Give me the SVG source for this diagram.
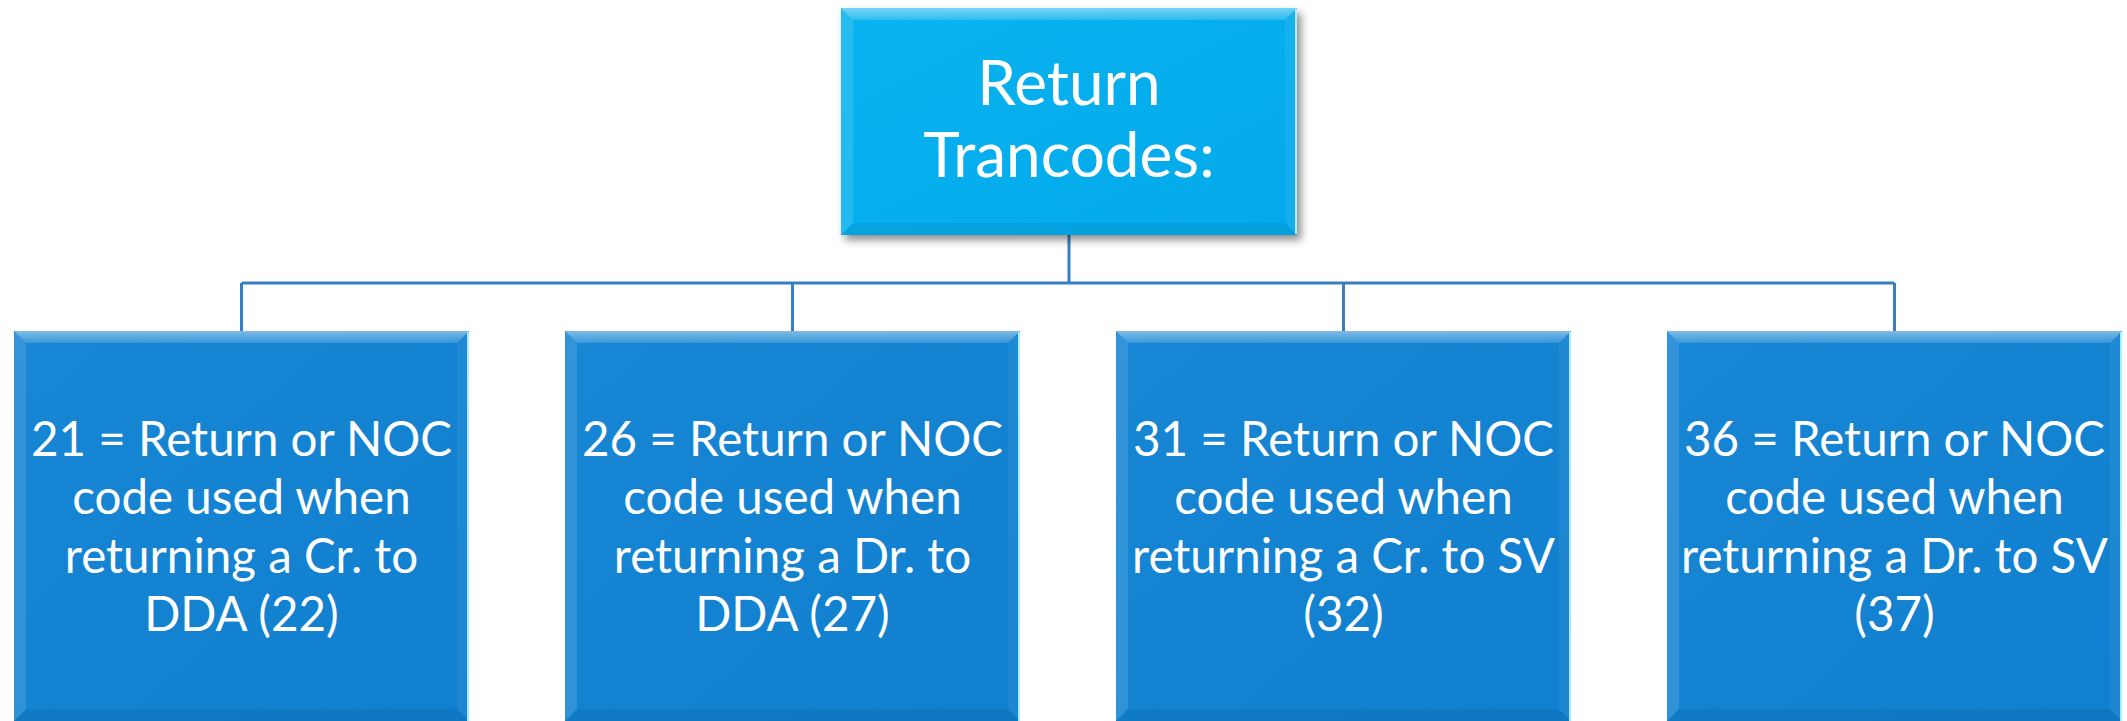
<svg xmlns="http://www.w3.org/2000/svg" width="2127" height="721" viewBox="0 0 2127 721">
  <style>
    .lbl { font-family: Lato, "Liberation Sans", sans-serif; fill: #ffffff; text-anchor: middle; }
    .top-lbl { font-size: 62px; }
    .sub-lbl { font-size: 47.5px; }
    .conn { fill: none; stroke: #3A7EC2; stroke-width: 3; }
    .bev-top { fill: url(#bevTop); }
    .bev-left { fill: #ffffff; fill-opacity: 0.12; }
    .bev-right { fill: #ffffff; fill-opacity: 0.06; }
    .bev-bot { fill: #000000; fill-opacity: 0.06; }
    .edge-r { stroke: #A8EEFF; stroke-width: 2; }
  </style>
  <defs>
    <linearGradient id="bevTop" x1="0" y1="0" x2="0" y2="1">
      <stop offset="0" stop-color="#ffffff" stop-opacity="0.45"/>
      <stop offset="1" stop-color="#ffffff" stop-opacity="0.15"/>
    </linearGradient>
    <linearGradient id="topFill" x1="0" y1="0" x2="1" y2="1">
      <stop offset="0" stop-color="#0BB3F0"/>
      <stop offset="1" stop-color="#03A9EA"/>
    </linearGradient>
    <linearGradient id="subFill" x1="0" y1="0" x2="1" y2="1">
      <stop offset="0" stop-color="#1786D4"/>
      <stop offset="1" stop-color="#107FCF"/>
    </linearGradient>
    <filter id="shadow" x="-10%" y="-10%" width="120%" height="130%">
      <feGaussianBlur stdDeviation="4"/>
    </filter>
  </defs>

  <!-- connectors -->
  <g id="connectors">
    <path class="conn" d="M1069 235 V283"/>
    <path class="conn" d="M241.5 283 H1894.5"/>
    <path class="conn" d="M241.5 283 V331"/>
    <path class="conn" d="M792.5 283 V331"/>
    <path class="conn" d="M1343.5 283 V331"/>
    <path class="conn" d="M1894.5 283 V331"/>
  </g>

  <!-- root node -->
  <g id="node-root">
    <rect x="845" y="13" width="456" height="227" fill="#000" fill-opacity="0.45" filter="url(#shadow)"/>
    <rect x="841" y="8" width="456" height="227" fill="url(#topFill)"/>
    <polygon class="bev-top" points="841,8 1297,8 1285,20 853,20"/>
    <polygon class="bev-left" points="841,8 853,20 853,223 841,235"/>
    <polygon class="bev-right" points="1297,8 1297,235 1285,223 1285,20"/>
    <polygon class="bev-bot" points="841,235 853,223 1285,223 1297,235"/>
    <line class="edge-r" x1="1296" y1="9" x2="1296" y2="234"/>
    <text class="lbl top-lbl" x="1069" y="105">Return</text>
    <text class="lbl top-lbl" x="1069" y="177">Trancodes:</text>
  </g>

  <!-- child nodes -->
  <g id="node-21">
    <rect x="14" y="331" width="455" height="392" fill="url(#subFill)"/>
    <polygon class="bev-top" points="14,331 469,331 457,343 26,343"/>
    <polygon class="bev-left" points="14,331 26,343 26,709 14,721"/>
    <polygon class="bev-right" points="469,331 469,721 457,709 457,343"/>
    <polygon class="bev-bot" points="14,721 26,709 457,709 469,721"/>
    <line class="edge-r" x1="468" y1="332" x2="468" y2="721"/>
    <text class="lbl sub-lbl" x="241.5" y="456">21 = Return or NOC</text>
    <text class="lbl sub-lbl" x="241.5" y="514">code used when</text>
    <text class="lbl sub-lbl" x="241.5" y="573">returning a Cr. to</text>
    <text class="lbl sub-lbl" x="241.5" y="631">DDA (22)</text>
  </g>

  <g id="node-26">
    <rect x="565" y="331" width="455" height="392" fill="url(#subFill)"/>
    <polygon class="bev-top" points="565,331 1020,331 1008,343 577,343"/>
    <polygon class="bev-left" points="565,331 577,343 577,709 565,721"/>
    <polygon class="bev-right" points="1020,331 1020,721 1008,709 1008,343"/>
    <polygon class="bev-bot" points="565,721 577,709 1008,709 1020,721"/>
    <line class="edge-r" x1="1019" y1="332" x2="1019" y2="721"/>
    <text class="lbl sub-lbl" x="792.5" y="456">26 = Return or NOC</text>
    <text class="lbl sub-lbl" x="792.5" y="514">code used when</text>
    <text class="lbl sub-lbl" x="792.5" y="573">returning a Dr. to</text>
    <text class="lbl sub-lbl" x="792.5" y="631">DDA (27)</text>
  </g>

  <g id="node-31">
    <rect x="1116" y="331" width="455" height="392" fill="url(#subFill)"/>
    <polygon class="bev-top" points="1116,331 1571,331 1559,343 1128,343"/>
    <polygon class="bev-left" points="1116,331 1128,343 1128,709 1116,721"/>
    <polygon class="bev-right" points="1571,331 1571,721 1559,709 1559,343"/>
    <polygon class="bev-bot" points="1116,721 1128,709 1559,709 1571,721"/>
    <line class="edge-r" x1="1570" y1="332" x2="1570" y2="721"/>
    <text class="lbl sub-lbl" x="1343.5" y="456">31 = Return or NOC</text>
    <text class="lbl sub-lbl" x="1343.5" y="514">code used when</text>
    <text class="lbl sub-lbl" x="1343.5" y="573">returning a Cr. to SV</text>
    <text class="lbl sub-lbl" x="1343.5" y="631">(32)</text>
  </g>

  <g id="node-36">
    <rect x="1667" y="331" width="455" height="392" fill="url(#subFill)"/>
    <polygon class="bev-top" points="1667,331 2122,331 2110,343 1679,343"/>
    <polygon class="bev-left" points="1667,331 1679,343 1679,709 1667,721"/>
    <polygon class="bev-right" points="2122,331 2122,721 2110,709 2110,343"/>
    <polygon class="bev-bot" points="1667,721 1679,709 2110,709 2122,721"/>
    <line class="edge-r" x1="2121" y1="332" x2="2121" y2="721"/>
    <text class="lbl sub-lbl" x="1894.5" y="456">36 = Return or NOC</text>
    <text class="lbl sub-lbl" x="1894.5" y="514">code used when</text>
    <text class="lbl sub-lbl" x="1894.5" y="573">returning a Dr. to SV</text>
    <text class="lbl sub-lbl" x="1894.5" y="631">(37)</text>
  </g>
</svg>
